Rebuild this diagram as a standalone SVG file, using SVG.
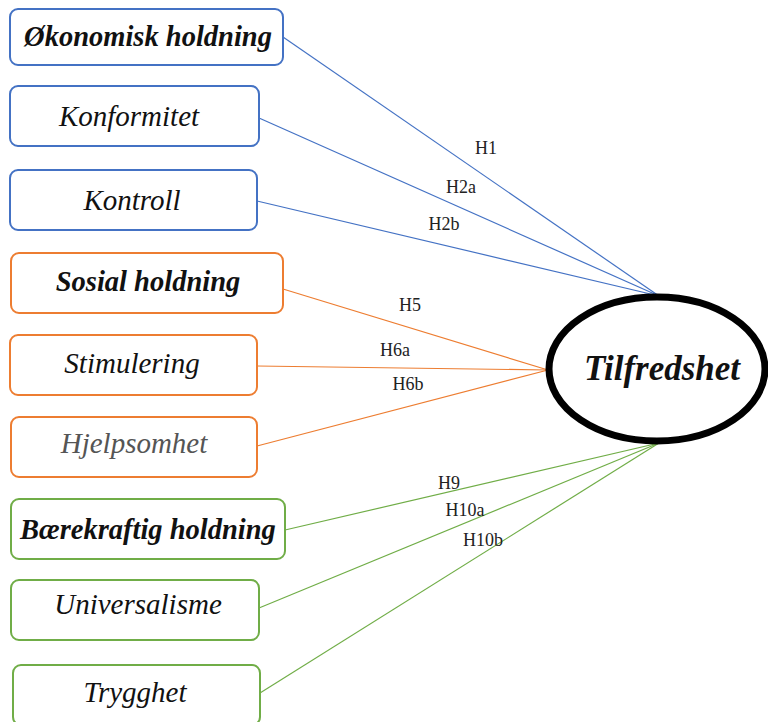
<svg xmlns="http://www.w3.org/2000/svg" width="768" height="722" viewBox="0 0 768 722">
<style>
.box{fill:#fff;stroke-width:2}
.b{stroke:#4472C4}.o{stroke:#ED7D31}.g{stroke:#70AD47}
.t{font-family:"Liberation Serif",serif;font-style:italic;font-size:29px;text-anchor:middle;fill:#111}
.bold{font-weight:bold;font-size:28.5px}
.lbl{font-family:"Liberation Serif",serif;font-size:18px;fill:#222;text-anchor:middle}
.ln{stroke-width:1.2;fill:none}
</style>
<rect width="768" height="722" fill="#fff"/>
<g id="connectors">
<line class="ln b" x1="283" y1="37" x2="659" y2="296"/>
<line class="ln b" x1="259" y1="118" x2="659" y2="296"/>
<line class="ln b" x1="257" y1="201" x2="659" y2="296"/>
<line class="ln o" x1="283" y1="289" x2="548" y2="370"/>
<line class="ln o" x1="257" y1="366" x2="548" y2="370"/>
<line class="ln o" x1="257" y1="446" x2="548" y2="370"/>
<line class="ln g" x1="285" y1="530" x2="659" y2="443"/>
<line class="ln g" x1="259" y1="608" x2="659" y2="443"/>
<line class="ln g" x1="260" y1="693" x2="659" y2="443"/>
<text class="lbl" x="486" y="154">H1</text>
<text class="lbl" x="461" y="193">H2a</text>
<text class="lbl" x="444" y="230">H2b</text>
<text class="lbl" x="410" y="311">H5</text>
<text class="lbl" x="395" y="356">H6a</text>
<text class="lbl" x="408" y="390">H6b</text>
<text class="lbl" x="449" y="489">H9</text>
<text class="lbl" x="465" y="516">H10a</text>
<text class="lbl" x="483" y="546">H10b</text>
</g>
<g id="n1"><rect class="box b" x="10" y="9" width="273" height="56" rx="8"/><text class="t bold" x="148" y="46">Økonomisk holdning</text></g>
<g id="n2"><rect class="box b" x="10" y="86" width="249" height="60" rx="8"/><text class="t" x="129" y="126">Konformitet</text></g>
<g id="n3"><rect class="box b" x="10" y="170" width="247" height="60" rx="8"/><text class="t" x="132" y="210">Kontroll</text></g>
<g id="n4"><rect class="box o" x="11" y="253" width="272" height="60" rx="8"/><text class="t bold" x="148" y="291">Sosial holdning</text></g>
<g id="n5"><rect class="box o" x="10" y="335" width="247" height="60" rx="8"/><text class="t" x="132" y="373">Stimulering</text></g>
<g id="n6"><rect class="box o" x="11" y="417" width="246" height="60" rx="8"/><text class="t" x="134" y="453" style="fill:#555">Hjelpsomhet</text></g>
<g id="n7"><rect class="box g" x="11" y="499" width="274" height="60" rx="8"/><text class="t bold" x="148" y="539">Bærekraftig holdning</text></g>
<g id="n8"><rect class="box g" x="11" y="580" width="248" height="60" rx="8"/><text class="t" x="138" y="614">Universalisme</text></g>
<g id="n9"><rect class="box g" x="13" y="665" width="247" height="60" rx="8"/><text class="t" x="135" y="702">Trygghet</text></g>
<g id="tilfredshet"><ellipse cx="657" cy="369" rx="108" ry="72" fill="#fff" stroke="#000" stroke-width="7"/><text class="t" x="662" y="380" style="font-weight:bold;font-size:35px">Tilfredshet</text></g>
</svg>
